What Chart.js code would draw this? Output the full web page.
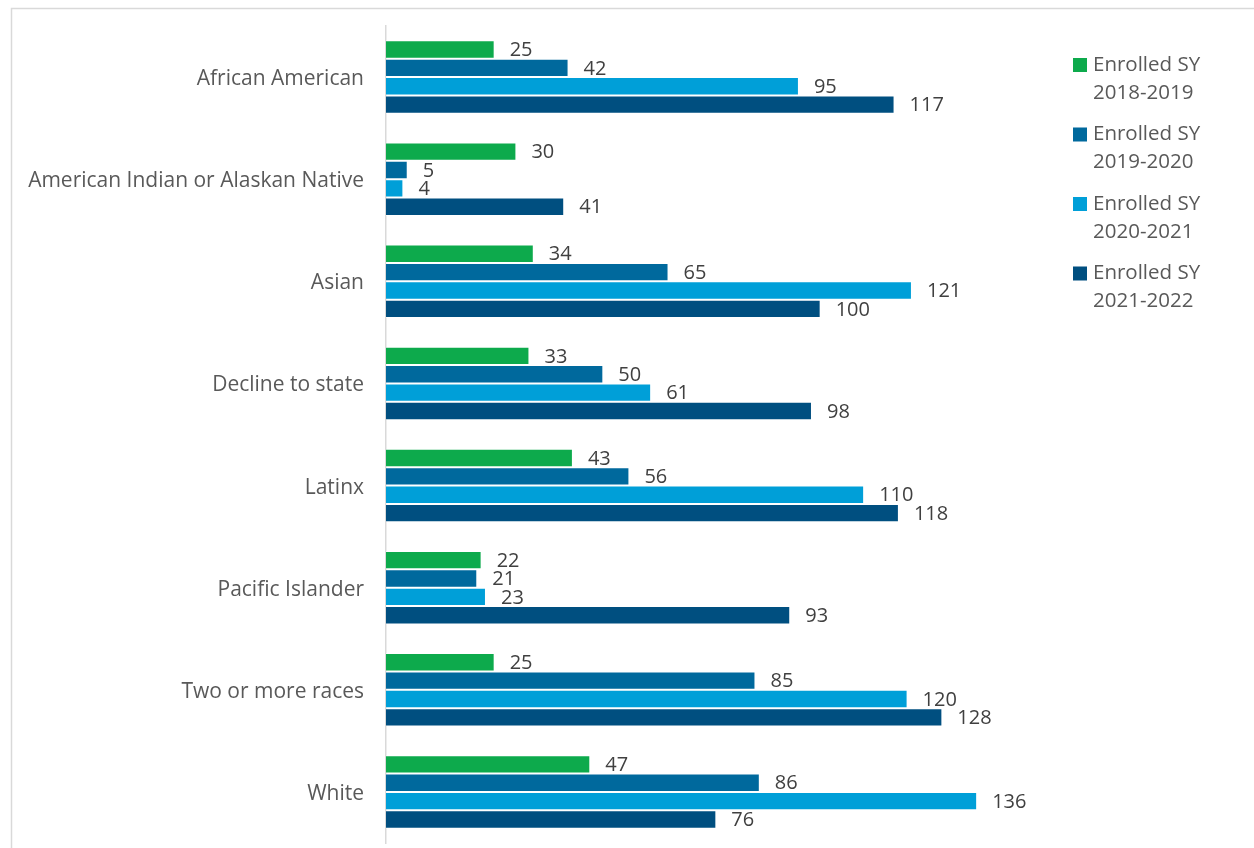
<!DOCTYPE html>
<html>
<head>
<meta charset="utf-8">
<script src="https://cdn.jsdelivr.net/npm/chart.js@4.4.1/dist/chart.umd.min.js"></script>
<style>
  html, body { margin: 0; padding: 0; background: #fff; overflow: hidden; }
  #wrap { position: absolute; left: 0; top: 0; width: 1254px; height: 848px; }
</style>
</head>
<body>
<div id="wrap"><canvas id="chart" width="1254" height="848"></canvas></div>
<script>
const categories = ['African American', 'American Indian or Alaskan Native', 'Asian', 'Decline to state',
  'Latinx', 'Pacific Islander', 'Two or more races', 'White'];
const seriesNames = ['Enrolled SY\n2018-2019', 'Enrolled SY\n2019-2020', 'Enrolled SY\n2020-2021', 'Enrolled SY\n2021-2022'];
const sy1819 = [25, 30, 34, 33, 43, 22, 25, 47];
const sy1920 = [42, 5, 65, 50, 56, 21, 85, 86];
const sy2021 = [95, 4, 121, 61, 110, 23, 120, 136];
const sy2122 = [117, 41, 100, 98, 118, 93, 128, 76];
const colors = ['#0DAA4C', '#00699D', '#009FD8', '#004F80'];

const FONT = '"Open Sans", "Noto Sans", sans-serif';
const TEXT = '#595959';

// frame, value labels and two-line legend
const extras = {
  id: 'extras',
  beforeDraw(chart) {
    const ctx = chart.ctx;
    ctx.save();
    ctx.strokeStyle = '#d9d9d9';
    ctx.lineWidth = 1.5;
    ctx.beginPath();
    ctx.moveTo(11.5, 860);
    ctx.lineTo(11.5, 8.5);
    ctx.lineTo(1260, 8.5);
    ctx.stroke();
    ctx.restore();
  },
  afterDatasetsDraw(chart) {
    const ctx = chart.ctx;
    ctx.save();
    ctx.font = '20px ' + FONT;
    ctx.fillStyle = '#404040';
    ctx.textAlign = 'left';
    ctx.textBaseline = 'middle';
    chart.data.datasets.forEach((ds, i) => {
      chart.getDatasetMeta(i).data.forEach((bar, j) => {
        ctx.fillText(String(ds.data[j]), bar.x + 15, bar.y + 1);
      });
    });
    // legend
    ctx.font = '20.5px ' + FONT;
    let y = 65;
    chart.data.datasets.forEach((ds) => {
      ctx.fillStyle = ds.backgroundColor;
      ctx.fillRect(1073, y - 7, 14, 14);
      ctx.fillStyle = TEXT;
      ds.label.split('\n').forEach((line, k) => {
        ctx.fillText(line, 1093, y + k * 28);
      });
      y += 69.5;
    });
    ctx.restore();
  }
};

new Chart(document.getElementById('chart'), {
  type: 'bar',
  data: {
    labels: categories,
    datasets: [sy1819, sy1920, sy2021, sy2122].map((d, i) => ({
      label: seriesNames[i],
      data: d,
      backgroundColor: colors[i],
      borderColor: 'rgba(255,255,255,0.7)',
      borderWidth: 1,
      categoryPercentage: 0.72,
      barPercentage: 1,
    })),
  },
  options: {
    indexAxis: 'y',
    responsive: false,
    animation: false,
    layout: { padding: { top: 26, bottom: 5, left: 0, right: 216 } },
    scales: {
      x: { display: false, min: 0, max: 150 },
      y: {
        afterFit: (scale) => {
          scale.width = 386;
          scale.paddingTop = 0; // tick padding should not eat vertical room
          scale.paddingBottom = 0;
        },
        grid: { display: false, drawTicks: false },
        border: { display: true, color: '#d9d9d9', width: 1.5 },
        ticks: { color: TEXT, font: { family: FONT, size: 21 }, padding: 22, labelOffset: 2 },
      },
    },
    plugins: {
      legend: { display: false },
      tooltip: { enabled: false },
    },
  },
  plugins: [extras],
});
</script>
</body>
</html>
